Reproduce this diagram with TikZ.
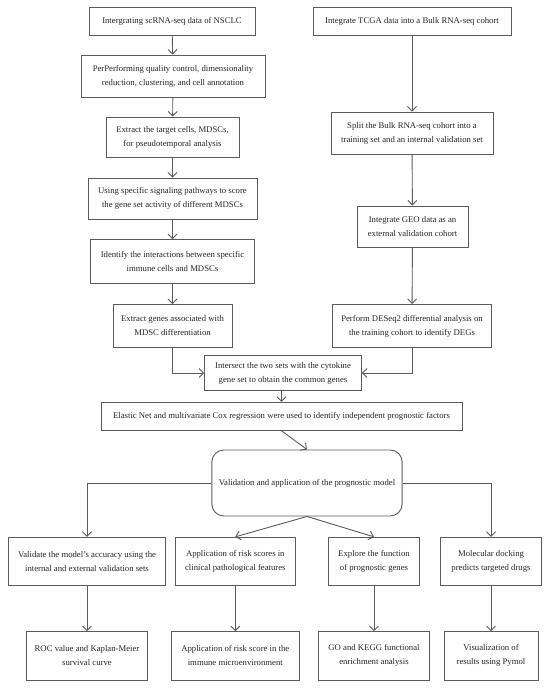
\documentclass[tikz,border=0pt]{standalone}
\usepackage{fontspec}
\setmainfont{Liberation Serif}
\usetikzlibrary{arrows.meta}
\definecolor{linegray}{HTML}{5A5A5A}
\definecolor{textcol}{HTML}{262626}
\begin{document}
\begin{tikzpicture}[x=1pt,y=-1pt,
  box/.style={draw=linegray, line width=0.9pt, align=center, text=textcol,
    font=\fontsize{8.7}{14}\selectfont, inner sep=0pt, anchor=center},
  rbox/.style={box, rounded corners=12pt},
  arr/.style={draw=linegray, line width=0.9pt, -{Straight Barb[length=4.5pt,width=9pt]}},
  ln/.style={draw=linegray, line width=0.9pt}
]
\useasboundingbox (0,0) rectangle (550,689);
\fill[white] (0,0) rectangle (550,689);

% left column
\node[box, minimum width=166pt, minimum height=28pt] (b1) at (172,21) {Intergrating scRNA-seq data of NSCLC};
\node[box, minimum width=184pt, minimum height=42pt] (b2) at (173,76) {PerPerforming quality control, dimensionality\\reduction, clustering, and cell annotation};
\node[box, minimum width=133pt, minimum height=40pt] (b3) at (172.5,137) {Extract the target cells, MDSCs,\\for pseudotemporal analysis};
\node[box, minimum width=169pt, minimum height=41pt] (b4) at (172.5,198.5) {Using specific signaling pathways to score\\the gene set activity of different MDSCs};
\node[box, minimum width=164pt, minimum height=44pt] (b5) at (172.5,261.5) {Identify the interactions between specific\\immune cells and MDSCs};
\node[box, minimum width=119pt, minimum height=43pt] (b6) at (172.5,326) {Extract genes associated with\\MDSC differentiation};

% right column
\node[box, minimum width=198pt, minimum height=28pt] (r1) at (412,21) {Integrate TCGA data into a Bulk RNA-seq cohort};
\node[box, minimum width=162pt, minimum height=42pt] (r2) at (412,133) {Split the Bulk RNA-seq cohort into a\\training set and an internal validation set};
\node[box, minimum width=111pt, minimum height=41.5pt] (r3) at (412.5,226.75) {Integrate GEO data as an\\external validation cohort};
\node[box, minimum width=158.6pt, minimum height=43pt] (r4) at (412,326) {Perform DESeq2 differential analysis on\\the training cohort to identify DEGs};

% merge
\node[box, minimum width=156.8pt, minimum height=35.4pt] (m1) at (283,373) {Intersect the two sets with the cytokine\\gene set to obtain the common genes};
\node[box, minimum width=361pt, minimum height=28pt] (m2) at (281.5,416.3) {Elastic Net and multivariate Cox regression were used to identify independent prognostic factors};
\node[rbox, minimum width=190.3pt, minimum height=66pt] (val) at (307,483) {Validation and application of the prognostic model};

% bottom rows
\node[box, minimum width=157.7pt, minimum height=48.4pt] (v1) at (87,561.5) {Validate the model's accuracy using the\\internal and external validation sets};
\node[box, minimum width=120.7pt, minimum height=48.4pt] (v2) at (235.3,561.5) {Application of risk scores in\\clinical pathological features};
\node[box, minimum width=91.7pt, minimum height=48.4pt] (v3) at (374,561.5) {Explore the function\\of prognostic genes};
\node[box, minimum width=101pt, minimum height=48.4pt] (v4) at (491,561.5) {Molecular docking\\predicts targeted drugs};

\node[box, minimum width=121pt, minimum height=48.3pt] (w1) at (87,655.8) {ROC value and Kaplan-Meier\\survival curve};
\node[box, minimum width=128pt, minimum height=48.3pt] (w2) at (235.3,655.8) {Application of risk score in the\\immune microenvironment};
\node[box, minimum width=111pt, minimum height=48.3pt] (w3) at (374,655.8) {GO and KEGG functional\\enrichment analysis};
\node[box, minimum width=94pt, minimum height=48.3pt] (w4) at (491,655.8) {Visualization of\\results using Pymol};

% connectors
\draw[arr] (b1) -- (b2);
\draw[arr] (b2) -- (b3);
\draw[arr] (b3) -- (b4);
\draw[arr] (b4) -- (b5);
\draw[arr] (b5) -- (b6);
\draw[arr] (r1) -- (r2);
\draw[arr] (r2) -- (r3);
\draw[arr] (r3) -- (r4);
\draw[arr] (b6.south) |- (m1.west);
\draw[arr] (r4.south) |- (m1.east);
\draw[arr] (m1.south -| m2.north) -- (m2.north);
\draw[arr] (m2.south) -- (val.north);
\draw[arr] (val.west) -| (v1.north);
\draw[arr] (val.east) -| (v4.north);
\draw[arr] (val.south) -- (v2.north);
\draw[arr] (val.south) -- (v3.north);
\draw[arr] (v1) -- (w1);
\draw[arr] (v2) -- (w2);
\draw[arr] (v3) -- (w3);
\draw[arr] (v4) -- (w4);
\end{tikzpicture}
\end{document}
